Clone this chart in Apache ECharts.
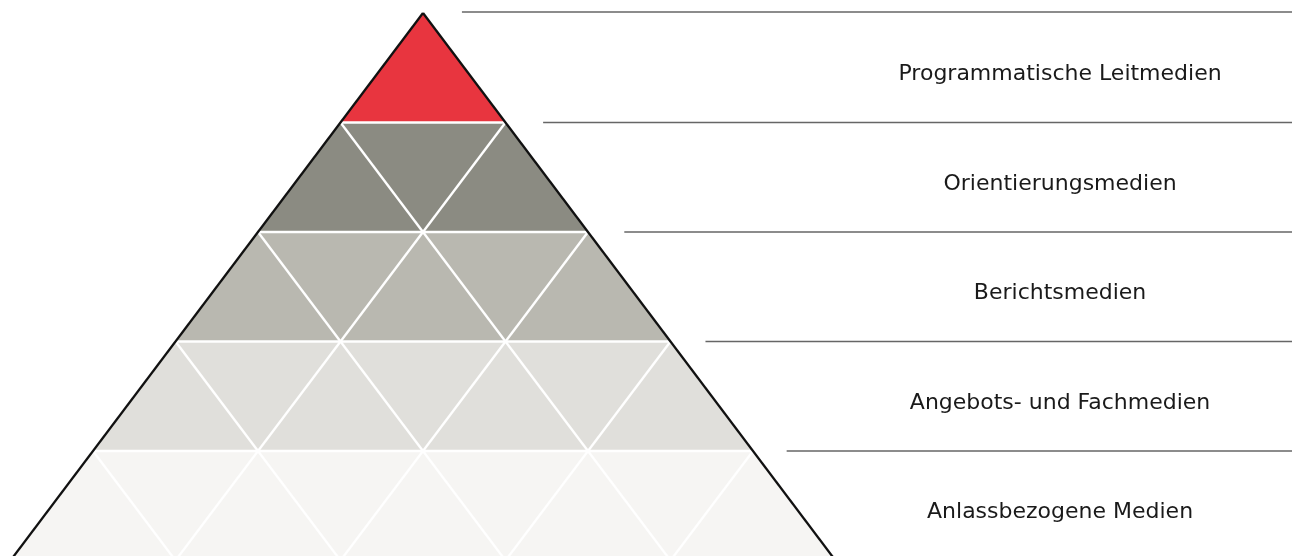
<!DOCTYPE html>
<html>
<head>
<meta charset="utf-8">
<script src="https://cdn.jsdelivr.net/npm/echarts@6/dist/echarts.min.js"></script>
<style>
  html, body { margin: 0; padding: 0; background: #ffffff; }
  #chart { width: 1292px; height: 556px; }
</style>
</head>
<body>
<div id="chart"></div>
<script>
// ---- data ----
const levelNames = [
  'Programmatische Leitmedien',
  'Orientierungsmedien',
  'Berichtsmedien',
  'Angebots- und Fachmedien',
  'Anlassbezogene Medien'
];
// level bands: [top level, bottom level] (apex = 0, base = 5)
const levelTop = [0, 1, 2, 3, 4];
const levelBottom = [1, 2, 3, 4, 5];

// ---- style ----
const levelColors = ['#e8353f', '#8b8b82', '#b9b8b0', '#e0dfdb', '#f6f5f3'];
const X_MIN = -2.5636, X_MAX = 5.2667; // pyramid units (1 = one triangle width)
const Y_MAX = 543 / 109.5;             // visible part of the pyramid (base lies just below)
const LABEL_X = 3.861;

const chart = echarts.init(document.getElementById('chart'), null, { renderer: 'canvas' });

function levelFill(params, api) {
  const t = api.value(0), b = api.value(1);
  const pts = [[-t / 2, t], [t / 2, t], [b / 2, b], [-b / 2, b]].map(p => api.coord(p));
  return {
    type: 'polygon',
    shape: { points: pts },
    style: { fill: levelColors[params.dataIndex], stroke: null }
  };
}

function lattice(params, api) {
  const k = api.value(0); // boundary index 1..4
  const children = [];
  const base = 5;
  const lineStyle = { stroke: '#ffffff', lineWidth: 2.4 };
  let a = api.coord([-k / 2, k]), c = api.coord([k / 2, k]);
  children.push({ type: 'line', shape: { x1: a[0], y1: a[1], x2: c[0], y2: c[1] }, style: lineStyle });
  a = api.coord([-k / 2, k]); c = api.coord([-k / 2 + (base - k) / 2, base]);
  children.push({ type: 'line', shape: { x1: a[0], y1: a[1], x2: c[0], y2: c[1] }, style: lineStyle });
  a = api.coord([k / 2, k]); c = api.coord([k / 2 - (base - k) / 2, base]);
  children.push({ type: 'line', shape: { x1: a[0], y1: a[1], x2: c[0], y2: c[1] }, style: lineStyle });
  return { type: 'group', children };
}

function outline(params, api) {
  const apex = api.coord([0, 0]);
  const l = api.coord([-2.5, 5]);
  const r = api.coord([2.5, 5]);
  const s = { stroke: '#111111', lineWidth: 2.3 };
  return {
    type: 'group',
    children: [
      { type: 'line', shape: { x1: apex[0], y1: apex[1], x2: l[0], y2: l[1] }, style: s },
      { type: 'line', shape: { x1: apex[0], y1: apex[1], x2: r[0], y2: r[1] }, style: s }
    ]
  };
}

function rightSide(params, api) {
  const t = api.value(0), b = api.value(1);
  const start = api.coord([0.236 + 0.492 * t, t]);
  const end = api.coord([X_MAX, t]);
  const mid = api.coord([LABEL_X, (t + b) / 2]);
  const ly = start[1] - (t === 0 ? 1 : 0);
  return {
    type: 'group',
    children: [
      { type: 'line', shape: { x1: start[0], y1: ly, x2: end[0], y2: ly },
        style: { stroke: '#666666', lineWidth: 1.4 } },
      { type: 'text', x: mid[0], y: mid[1] + 7,
        style: { text: levelNames[params.dataIndex], fill: '#1a1a1a',
          font: '400 22px "DejaVu Sans", "Open Sans", sans-serif',
          align: 'center', verticalAlign: 'middle',
          textAlign: 'center', textVerticalAlign: 'middle' } }
    ]
  };
}

const bands = levelTop.map((t, i) => [t, levelBottom[i]]);
const boundaries = levelTop.slice(1).map(t => [t]);

chart.setOption({
  animation: false,
  grid: { left: 0, top: 13, right: 0, bottom: 0 },
  xAxis: { type: 'value', min: X_MIN, max: X_MAX, show: false },
  yAxis: { type: 'value', min: 0, max: Y_MAX, inverse: true, show: false },
  series: [
    { type: 'custom', renderItem: levelFill, data: bands, clip: false, silent: true },
    { type: 'custom', renderItem: lattice, data: boundaries, clip: false, silent: true },
    { type: 'custom', renderItem: outline, data: [[0]], clip: false, silent: true },
    { type: 'custom', renderItem: rightSide, data: bands, clip: false, silent: true }
  ]
});
</script>
</body>
</html>
